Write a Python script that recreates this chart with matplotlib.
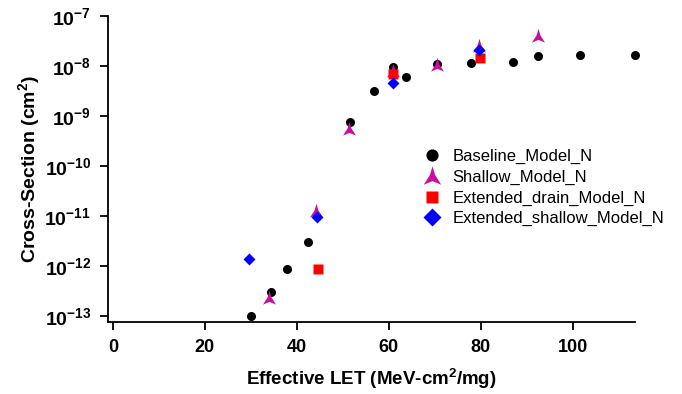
import matplotlib
matplotlib.use('Agg')
import matplotlib.pyplot as plt
import numpy as np
from matplotlib.path import Path
from matplotlib.ticker import FixedLocator, NullLocator

plt.rcParams['font.family'] = ['Liberation Sans', 'DejaVu Sans']
plt.rcParams['mathtext.fontset'] = 'custom'
plt.rcParams['mathtext.rm'] = 'Liberation Sans:bold'
plt.rcParams['mathtext.bf'] = 'Liberation Sans:bold'
plt.rcParams['mathtext.default'] = 'bf'

# data (LET in MeV-cm2/mg, cross-section in cm2)
baseline_let = [30.0, 34.3, 37.8, 42.4, 51.6, 56.8, 60.8, 63.7, 70.5, 77.8, 87.0, 92.4, 101.6, 113.6]
baseline_xs = [1.0e-13, 2.95e-13, 8.5e-13, 3.0e-12, 7.6e-10, 3.1e-9, 9.3e-9, 5.9e-9,
               1.1e-8, 1.12e-8, 1.2e-8, 1.6e-8, 1.63e-8, 1.63e-8]

shallow_let = [34.0, 44.2, 51.4, 60.8, 70.5, 79.6, 92.4]
shallow_xs = [2.3e-13, 1.24e-11, 5.4e-10, 8.0e-9, 1.05e-8, 2.46e-8, 3.9e-8]

ext_drain_let = [44.5, 60.8, 79.8]
ext_drain_xs = [8.6e-13, 7.0e-9, 1.45e-8]

ext_shallow_let = [29.5, 44.3, 60.8, 79.6]
ext_shallow_xs = [1.38e-12, 9.3e-12, 4.6e-9, 2.1e-8]

x_ticks = [0, 20, 40, 60, 80, 100]
y_ticks = [1e-13, 1e-12, 1e-11, 1e-10, 1e-9, 1e-8, 1e-7]

# arrow-head like triangle marker
arrow = Path([(0, 1), (0.25, 0.15), (0.85, -0.8), (0, -0.45), (-0.85, -0.8), (-0.25, 0.15), (0, 1)],
             [Path.MOVETO] + [Path.LINETO] * 5 + [Path.CLOSEPOLY])

fig = plt.figure(figsize=(6.82, 3.94), dpi=100)
ax = fig.add_axes([0.158, 0.182, 0.773, 0.778])

ax.plot(baseline_let, baseline_xs, 'o', color='black', ms=6.5, mec='none', label='Baseline_Model_N',
        clip_on=False, zorder=3)
ax.plot(shallow_let, shallow_xs, linestyle='none', marker=arrow, color='#C8109C', ms=11, mec='none',
        label='Shallow_Model_N', clip_on=False, zorder=4)
ax.plot(ext_drain_let, ext_drain_xs, 's', color='#FF0000', ms=6.5, mec='none',
        label='Extended_drain_Model_N', clip_on=False, zorder=5)
ax.plot(ext_shallow_let, ext_shallow_xs, 'D', color='#0000FF', ms=6.5, mec='none',
        label='Extended_shallow_Model_N', clip_on=False, zorder=6)

ax.set_yscale('log')
ax.set_xlim(-1.1, 113.5)
ax.set_ylim(10 ** -13.13, 1e-7)
ax.xaxis.set_major_locator(FixedLocator(x_ticks))
ax.yaxis.set_major_locator(FixedLocator(y_ticks))
ax.yaxis.set_minor_locator(NullLocator())
ax.set_xticklabels([str(t) for t in x_ticks], fontsize=13, fontweight='bold')
ax.set_yticklabels(['$10^{%d}$' % int(np.log10(t)) for t in y_ticks], fontsize=14)

for side in ['top', 'right']:
    ax.spines[side].set_visible(False)
for side in ['left', 'bottom']:
    ax.spines[side].set_linewidth(1.3)
ax.tick_params(axis='both', direction='out', length=6, width=1.3, pad=6, colors='black')

ax.set_xlabel('Effective LET (MeV-cm$^2$/mg)', fontsize=13.5, fontweight='bold', labelpad=8)
ax.set_ylabel('Cross-Section (cm$^2$)', fontsize=14, fontweight='bold', labelpad=2)

ax.legend(loc='upper left', bbox_to_anchor=(0.599, 0.565), frameon=False, fontsize=12,
          handlelength=1.0, handletextpad=0.75, labelspacing=0.33, borderpad=0, borderaxespad=0,
          numpoints=1, markerscale=1.35)

fig.savefig('out.png', dpi=100)
